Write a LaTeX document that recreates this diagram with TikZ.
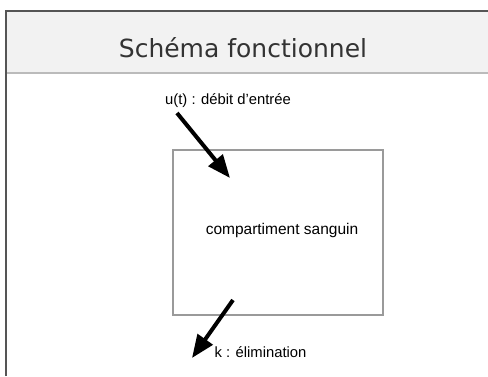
\documentclass[tikz,border=0pt]{standalone}
\usepackage{fontspec}
\setmainfont{Liberation Sans}
\newfontfamily\titlefont{DejaVu Sans}
\usetikzlibrary{arrows.meta,positioning}
\definecolor{frame}{HTML}{555555}
\definecolor{header}{HTML}{F2F2F2}
\definecolor{rule}{HTML}{BBBBBB}
\definecolor{boxline}{HTML}{9A9A9A}
\tikzset{
    compart/.style = {rectangle,
                    fill=white,
                    draw=boxline,
                    line width=1.3pt,
                    text=black,
                    minimum width=210pt,
                    minimum height=165pt},
    lbl/.style =    {inner sep=0pt,
                    text=black,
                    font=\fontsize{14.8}{16}\selectfont},
    flux/.style =   {line width=4pt,
                    -{Triangle[length=23pt,width=18pt]},
                    shorten >= 0pt},
    -}

\begin{document}
\begin{tikzpicture}[x=1pt,y=-1pt]
                \useasboundingbox (0,0) rectangle (488,376);
                % cadre
                \fill[header] (6,11) rectangle (488,73);
                \draw[frame,line width=2pt] (6,376) -- (6,11) -- (488,11);
                \draw[rule,line width=1.5pt] (7,73) -- (488,73);
                \node[inner sep=0pt,text=black!80] (titre) at (243,48)
                    {\titlefont\fontsize{25}{28}\selectfont Schéma fonctionnel};
                % compartiment
                \node[compart] (C) at (278,232.5) {};
                \node[lbl,font=\fontsize{15.5}{17}\selectfont] (S) at (282,230) {compartiment sanguin};
                \node[lbl] (U) at (228,101) {u(t) : débit d’entrée};
                \node[lbl] (K) at (260.5,352) {k : élimination};
                \coordinate (u0) at (177,113);
                \coordinate (u1) at (230,178);
                \coordinate (k0) at (233,300);
                \coordinate (k1) at (192,358);
                \draw[flux] (u0) -- (u1);
                \draw[flux] (k0) -- (k1);
        \end{tikzpicture}
\end{document}
